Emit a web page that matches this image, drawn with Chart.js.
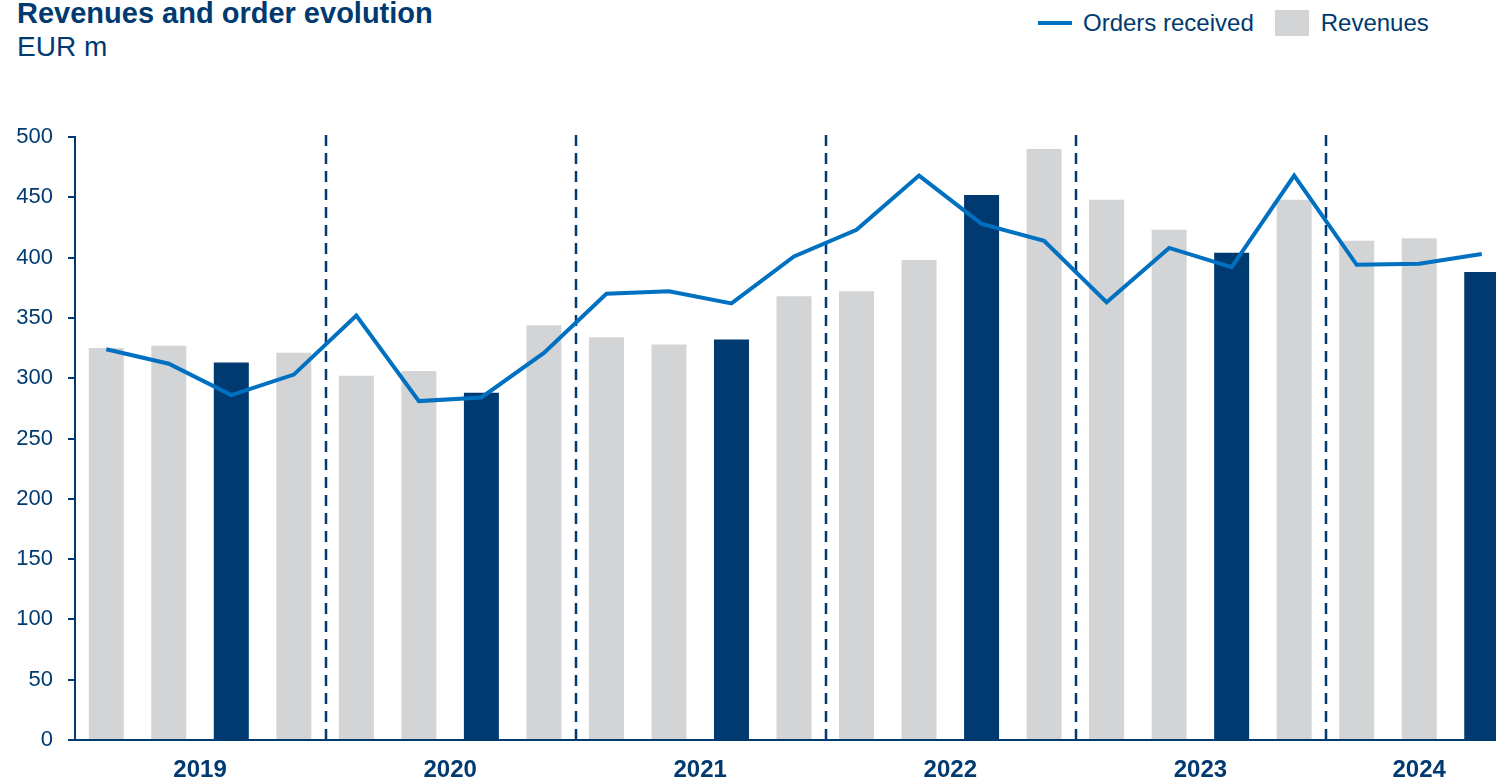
<!DOCTYPE html>
<html>
<head>
<meta charset="utf-8">
<script src="https://cdn.jsdelivr.net/npm/chart.js@4.4.1/dist/chart.umd.min.js"></script>
<style>
  html, body { margin: 0; padding: 0; background: #fff; overflow: hidden; width: 1496px; height: 778px; }
  body { position: relative; font-family: "Liberation Sans", Arial, sans-serif; color: #003a70; }
  #chart { position: absolute; left: 0; top: 0; }
  .title { position: absolute; left: 17px; top: -3px; font-size: 29px; font-weight: bold; white-space: nowrap; }
  .unit { position: absolute; left: 17px; top: 31px; font-size: 28px; white-space: nowrap; }
  .legend { position: absolute; top: 9px; left: 1038px; font-size: 24px; white-space: nowrap; display: flex; align-items: center; }
  .legend .ln { display: inline-block; width: 34px; height: 4px; background: #0070c0; margin-right: 11px; }
  .legend .sq { display: inline-block; width: 34px; height: 26px; background: #d3d4d6; margin-left: 21px; margin-right: 12px; }
</style>
</head>
<body>
<div class="title">Revenues and order evolution</div>
<div class="unit">EUR m</div>
<div class="legend"><span class="ln"></span>Orders received<span class="sq"></span>Revenues</div>
<canvas id="chart" width="1513" height="778"></canvas>
<script>
// Quartale
const years = ['2019', '2020', '2021', '2022', '2023', '2024'];
const quarters = [
  'Q1 2019', 'Q2 2019', 'Q3 2019', 'Q4 2019',
  'Q1 2020', 'Q2 2020', 'Q3 2020', 'Q4 2020',
  'Q1 2021', 'Q2 2021', 'Q3 2021', 'Q4 2021',
  'Q1 2022', 'Q2 2022', 'Q3 2022', 'Q4 2022',
  'Q1 2023', 'Q2 2023', 'Q3 2023', 'Q4 2023',
  'Q1 2024', 'Q2 2024', 'Q3 2024'
];
const revenues = [325, 327, 313, 321, 302, 306, 288, 344, 334, 328, 332, 368, 372, 398, 452, 490, 448, 423, 404, 448, 414, 416, 388];
const ordersReceived = [324, 312, 286, 303, 352, 281, 284, 321, 370, 372, 362, 401, 423, 468, 428, 414, 363, 408, 392, 468, 394, 395, 403];
const yTicks = [0, 50, 100, 150, 200, 250, 300, 350, 400, 450, 500];

const NAVY = '#003a70';
const GREY = '#d3d4d6';
const BLUE = '#0070c0';

// crtkane locnice med leti + oznake let
const yearPlugin = {
  id: 'yearPlugin',
  beforeDatasetsDraw(chart) {
    const { ctx, chartArea, scales: { x } } = chart;
    ctx.save();
    ctx.strokeStyle = NAVY;
    ctx.lineWidth = 2.5;
    ctx.setLineDash([11, 7]);
    for (let i = 1; i < quarters.length; i++) {
      if (quarters[i].slice(3) !== quarters[i - 1].slice(3)) {
        const px = Math.round((x.getPixelForValue(i - 1) + x.getPixelForValue(i)) / 2) + 1;
        ctx.beginPath();
        ctx.moveTo(px, chartArea.top - 2);
        ctx.lineTo(px, chartArea.bottom + 2);
        ctx.stroke();
      }
    }
    ctx.restore();
  },
  afterDraw(chart) {
    const { ctx, chartArea, scales: { x } } = chart;
    ctx.save();
    ctx.fillStyle = NAVY;
    ctx.font = 'bold 24px "Liberation Sans", Arial, sans-serif';
    ctx.textAlign = 'center';
    ctx.textBaseline = 'middle';
    years.forEach(y => {
      const idx = quarters.map((q, i) => q.endsWith(y) ? i : -1).filter(i => i >= 0);
      const px = (x.getPixelForValue(idx[0]) + x.getPixelForValue(idx[idx.length - 1])) / 2;
      ctx.fillText(y, px, chartArea.bottom + 30);
    });
    ctx.restore();
  }
};

new Chart(document.getElementById('chart'), {
  data: {
    labels: quarters,
    datasets: [
      {
        type: 'line',
        label: 'Orders received',
        data: ordersReceived,
        borderColor: BLUE,
        borderWidth: 4,
        pointRadius: 0,
        tension: 0,
        order: 0
      },
      {
        type: 'bar',
        label: 'Revenues',
        data: revenues,
        backgroundColor: quarters.map(q => q.startsWith('Q3') ? NAVY : GREY),
        barPercentage: 0.56,
        categoryPercentage: 1,
        order: 1
      }
    ]
  },
  options: {
    responsive: false,
    devicePixelRatio: 1,
    animation: false,
    layout: { padding: { top: 137, left: 0, right: 0, bottom: 0 } },
    plugins: {
      legend: { display: false },
      tooltip: { enabled: false }
    },
    scales: {
      x: {
        afterFit: s => { s.height = 38; },
        ticks: { display: false },
        grid: { drawOnChartArea: false, drawTicks: false },
        border: { display: true, color: NAVY, width: 2 }
      },
      y: {
        min: 0,
        max: 500,
        afterFit: s => { s.width = 75; },
        afterBuildTicks: s => { s.ticks = yTicks.map(v => ({ value: v })); },
        ticks: {
          color: NAVY,
          padding: 15,
          font: { family: '"Liberation Sans", Arial, sans-serif', size: 22 }
        },
        grid: { drawOnChartArea: false, drawTicks: true, tickLength: 7, color: NAVY, lineWidth: 2 },
        border: { display: true, color: NAVY, width: 2 }
      }
    }
  },
  plugins: [yearPlugin]
});
</script>
</body>
</html>
